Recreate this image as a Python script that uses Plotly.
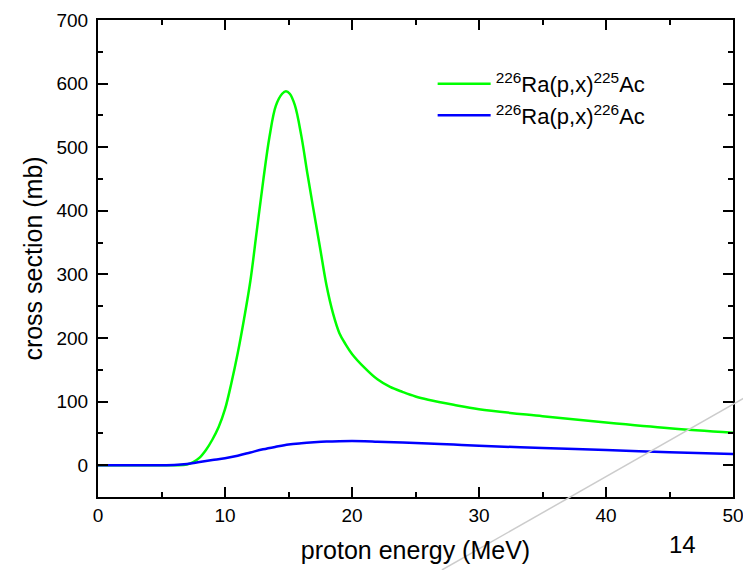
import plotly.graph_objects as go

# Proton energy (MeV) and cross sections (mb)
energy_ac225 = [0, 2, 4, 6, 7, 7.5, 8, 8.5, 9, 9.5, 10, 10.5, 11, 11.5, 12, 12.5,
                13, 13.5, 14, 14.5, 14.8, 15.1, 15.5, 16, 16.5, 17, 17.5, 18, 18.5,
                19, 19.5, 20, 21, 22, 23, 24, 25, 26, 28, 30, 35, 40, 45, 50]
xs_ac225 = [0, 0, 0, 0, 1, 5, 12, 24, 40, 60, 88, 129, 176, 230, 290, 368,
            446, 516, 565, 584, 588, 584, 566, 519, 457, 398, 340, 282, 239,
            208, 190, 175, 153, 135, 123, 115, 108, 103, 95, 88, 77, 67, 58, 51]

energy_ac226 = [0, 2, 4, 6, 7, 8, 9, 10, 11, 12, 13, 14, 15, 16, 17, 18, 19, 20,
                21, 22, 24, 26, 28, 30, 35, 40, 45, 50]
xs_ac226 = [0, 0, 0, 0.5, 2, 5, 8, 11, 15, 20, 25, 29, 32.5, 34.5, 36, 37.2, 37.8, 38,
            37.8, 37, 35.5, 34, 32.5, 30.5, 27, 23.8, 20.5, 17.5]

name_ac225 = "<sup>226</sup>Ra(p,x)<sup>225</sup>Ac"
name_ac226 = "<sup>226</sup>Ra(p,x)<sup>226</sup>Ac"

x_ticks = [0, 10, 20, 30, 40, 50]
y_ticks = [0, 100, 200, 300, 400, 500, 600, 700]

FONT = "Liberation Sans, Arial, sans-serif"

fig = go.Figure()
fig.add_trace(go.Scatter(x=energy_ac225, y=xs_ac225, mode="lines", name=name_ac225,
                         line=dict(color="#00ff00", width=2.5, shape="spline", smoothing=1.0)))
fig.add_trace(go.Scatter(x=energy_ac226, y=xs_ac226, mode="lines", name=name_ac226,
                         line=dict(color="#0000ff", width=2.5, shape="spline", smoothing=1.0)))

axis_common = dict(showline=True, linecolor="black", linewidth=2, mirror="ticks",
                   ticks="inside", ticklen=10, tickwidth=1.5, tickcolor="black",
                   showgrid=False, zeroline=False, automargin=False,
                   ticklabeloverflow="allow",
                   tickfont=dict(family=FONT, size=19, color="black"))

fig.update_xaxes(range=[0, 50], tickvals=x_ticks,
                 minor=dict(ticks="inside", ticklen=5, tickwidth=1.5, dtick=5, tick0=0,
                            tickcolor="black", showgrid=False),
                 title=dict(text="proton energy (MeV)", font=dict(family=FONT, size=25, color="black"),
                            standoff=17),
                 **axis_common)
fig.update_yaxes(range=[-50, 700], tickvals=y_ticks, ticklabelstandoff=4,
                 minor=dict(ticks="inside", ticklen=5, tickwidth=1.5, dtick=50, tick0=0,
                            tickcolor="black", showgrid=False),
                 title=dict(text="cross section (mb)", font=dict(family=FONT, size=25, color="black"),
                            standoff=7),
                 **axis_common)

fig.update_layout(
    width=743, height=570, autosize=False,
    margin=dict(l=98, r=10, t=20, b=73),
    plot_bgcolor="white", paper_bgcolor="white",
    font=dict(family=FONT, color="black"),
    legend=dict(x=0.527, y=0.91, xanchor="left", yanchor="top", itemwidth=53,
                bgcolor="rgba(0,0,0,0)", font=dict(family=FONT, size=22, color="black"),
                tracegroupgap=0),
    showlegend=True,
    shapes=[dict(type="line", xref="paper", yref="paper", x0=0.5416, y0=-0.153,
                 x1=1.0282, y1=0.2155, line=dict(color="#cccccc", width=1.5), layer="above")],
    annotations=[dict(text="14", xref="paper", yref="paper", x=0.921, y=-0.1006,
                      showarrow=False, font=dict(family=FONT, size=24, color="black"),
                      xanchor="center", yanchor="middle")],
)

# remove the default page margin so the 743x570 figure fills the window exactly
fig.write_html("out.html", config={"displayModeBar": False},
               post_script="document.body.style.margin='0';document.body.style.overflow='hidden';")
